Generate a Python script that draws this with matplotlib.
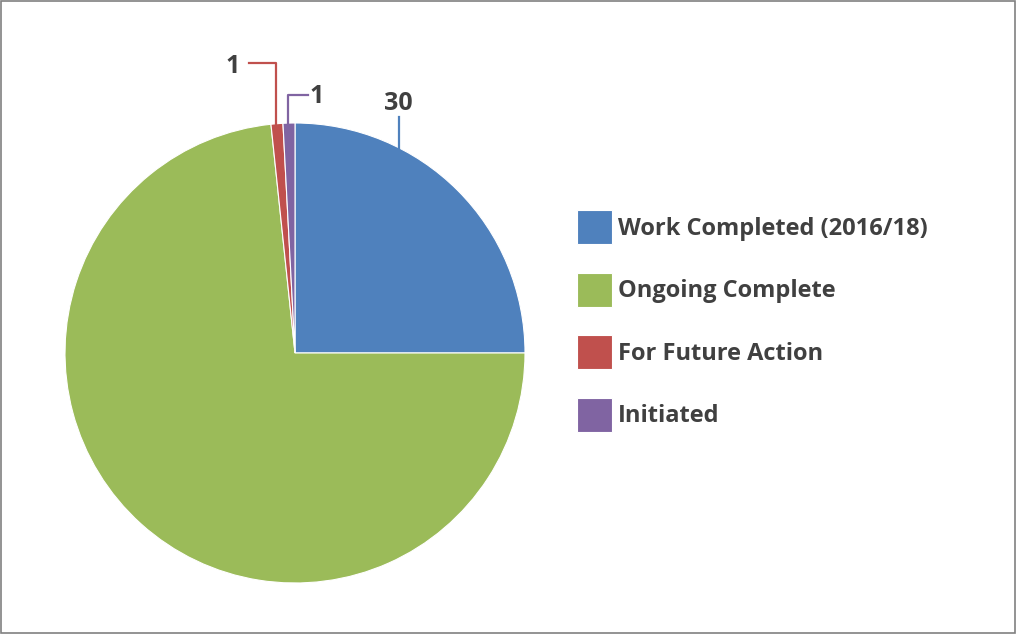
import matplotlib
matplotlib.use("Agg")
import matplotlib.pyplot as plt
from matplotlib.patches import Rectangle

categories = ["Work Completed (2016/18)", "Ongoing Complete", "For Future Action", "Initiated"]
values = [30, 88, 1, 1]
colors = ["#4F81BD", "#9BBB59", "#C0504D", "#8064A2"]
TEXT = "#404040"
FONT = "Open Sans"
FS = 17

fig = plt.figure(figsize=(10.16, 6.34), dpi=100)
fig.patches.append(Rectangle((0.001, 0.002), 0.998, 0.996, transform=fig.transFigure,
                             fill=False, edgecolor="#808080", linewidth=1.2))

# pie axes: centre (295, 353) px, radius ~230 px
ax = fig.add_axes([(295 - 230) / 1016, (634 - 353 - 230) / 634, 460 / 1016, 460 / 634])
wedges, _ = ax.pie(values, colors=colors, startangle=90, counterclock=False,
                   radius=1.0, wedgeprops=dict(linewidth=0.8, edgecolor="white"))
ax.set_xlim(-1, 1)
ax.set_ylim(-1, 1)
ax.set_aspect("equal")
ax.axis("off")

# data labels with leader lines (Ongoing Complete has no label in the original)
def lbl(text, xy, pts, color):
    ax.plot([p[0] for p in pts], [p[1] for p in pts], color=color, lw=1.6, clip_on=False)
    ax.text(xy[0], xy[1], text, ha="center", va="center", fontsize=FS + 1, fontweight="bold",
            color=TEXT, family=FONT)

lbl(str(values[0]), (0.45, 1.085), [(0.45, 0.87), (0.45, 1.025)], colors[0])
lbl(str(values[2]), (-0.27, 1.245), [(-0.20, 1.26), (-0.083, 1.26), (-0.083, 0.99)], colors[2])
lbl(str(values[3]), (0.095, 1.115), [(0.055, 1.12), (-0.03, 1.12), (-0.03, 0.995)], colors[3])

fig.legend(wedges, categories, loc="upper left", bbox_to_anchor=(577 / 1016, 1 - 210 / 634),
           frameon=False, prop=dict(family=FONT, weight="bold", size=FS),
           labelcolor=TEXT, handlelength=1.48, handleheight=1.84, handletextpad=0.25,
           labelspacing=1.21, borderpad=0, borderaxespad=0)

fig.savefig("out.png", dpi=100)
